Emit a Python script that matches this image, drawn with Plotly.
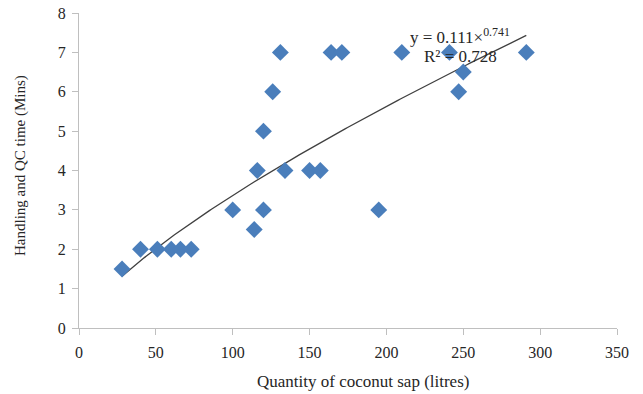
import numpy as np
import plotly.graph_objects as go

quantity = [28, 40, 51, 60, 66, 73, 100, 114, 120, 116, 120, 126, 131, 134, 150, 157,
            164, 171, 195, 210, 241, 250, 247, 291]
qc_time = [1.5, 2, 2, 2, 2, 2, 3, 2.5, 3, 4, 5, 6, 7, 4, 4, 4,
           7, 7, 3, 7, 7, 6.5, 6, 7]
fit_a = 0.111
fit_b = 0.741
x_ticks = [0, 50, 100, 150, 200, 250, 300, 350]
y_ticks = [0, 1, 2, 3, 4, 5, 6, 7, 8]

xs = np.linspace(min(quantity), max(quantity), 200)
ys = fit_a * xs ** fit_b

font = "Liberation Serif, Times New Roman, serif"
txt = "#262626"
fig = go.Figure()
fig.add_trace(go.Scatter(x=xs, y=ys, mode="lines",
                         line=dict(color="#404040", width=1.3), hoverinfo="skip"))
fig.add_trace(go.Scatter(x=quantity, y=qc_time, mode="markers",
                         marker=dict(symbol="diamond", size=13, color="#4a7ebb",
                                     line=dict(width=0))))

L, R, T, B = 79, 26, 13, 66
W, H = 643, 394
pw, ph = W - L - R, H - T - B

def px(xp):
    return (xp - L) / pw

def py(yp):
    return (H - B - yp) / ph

fig.add_annotation(x=px(460), y=py(36), xref="paper", yref="paper", showarrow=False,
                   text="y = 0.111×<sup>0.741</sup>", font=dict(family=font, size=17, color=txt),
                   xanchor="center", yanchor="middle")
fig.add_annotation(x=px(460), y=py(57), xref="paper", yref="paper", showarrow=False,
                   text="R² = 0.728", font=dict(family=font, size=17, color=txt),
                   xanchor="center", yanchor="middle")
fig.add_annotation(x=px(363), y=py(381), xref="paper", yref="paper", showarrow=False,
                   text="Quantity of coconut sap (litres)", font=dict(family=font, size=17, color=txt),
                   xanchor="center", yanchor="middle")
fig.add_annotation(x=px(20), y=py(166), xref="paper", yref="paper", showarrow=False,
                   text="Handling and QC time (Mins)", textangle=-90,
                   font=dict(family=font, size=15, color=txt),
                   xanchor="center", yanchor="middle")

axis_common = dict(showline=True, linecolor="#bfbfbf", linewidth=1, ticks="outside",
                   ticklen=6, tickcolor="#bfbfbf", showgrid=False, zeroline=False,
                   automargin=False,
                   tickfont=dict(family=font, size=16, color=txt))
fig.update_xaxes(range=[0, 350], tickvals=x_ticks, ticklabelstandoff=4, **axis_common)
fig.update_yaxes(range=[0, 8], tickvals=y_ticks, ticklabelstandoff=3, **axis_common)
fig.update_layout(width=W, height=H, showlegend=False,
                  plot_bgcolor="white", paper_bgcolor="white",
                  margin=dict(l=L, r=R, t=T, b=B))
fig.write_html("out.html", config={"displayModeBar": False},
               post_script="document.body.style.margin='0px';document.body.style.overflow='hidden';")
